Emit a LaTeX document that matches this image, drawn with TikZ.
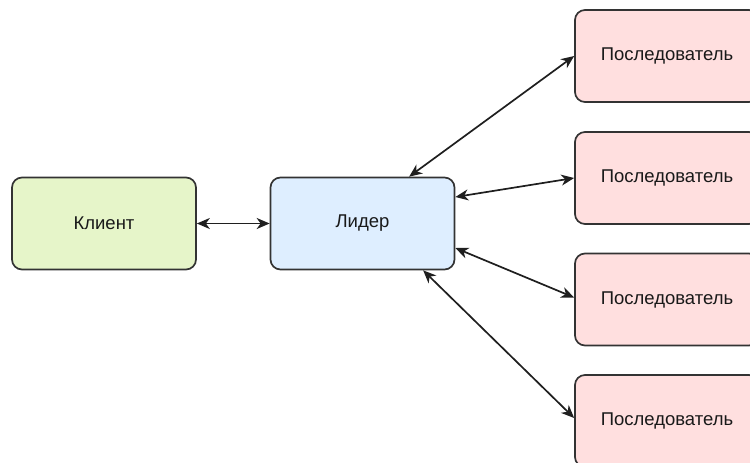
\documentclass[tikz,border=0pt]{standalone}
\usepackage{fontspec}
\setmainfont{Liberation Sans}
\usetikzlibrary{arrows.meta}
\definecolor{clientfill}{HTML}{E6F5C9}
\definecolor{leaderfill}{HTML}{DEEEFF}
\definecolor{followerfill}{HTML}{FFDFDF}
\definecolor{edgegray}{HTML}{333333}
\tikzset{
  box/.style={draw=edgegray, line width=1.7pt, rounded corners=10pt,
    minimum width=184pt, minimum height=92pt, inner sep=0pt,
    font=\fontsize{18.5}{22}\selectfont, text=black!90},
  tip/.style={Stealth[length=13pt,width=11pt,inset=4pt]},
  link/.style={line width=1.7pt, draw=black!88, {Stealth[length=13pt,width=11pt,inset=4pt]}-{Stealth[length=13pt,width=11pt,inset=4pt]}},
}
\begin{document}
\begin{tikzpicture}[x=1pt, y=-1pt]
  \useasboundingbox (0,0) rectangle (750,463);
  % client and leader
  \node[box, fill=clientfill] (C) at (104,223.5) {Клиент};
  \node[box, fill=leaderfill] (L) at (362.5,223.5) {Лидер};
  % followers
  \node[box, fill=followerfill] (F1) at (667,56) {Последователь};
  \node[box, fill=followerfill] (F2) at (667,178) {Последователь};
  \node[box, fill=followerfill] (F3) at (667,299.5) {Последователь};
  \node[box, fill=followerfill] (F4) at (667,421) {Последователь};
  % connections
  \draw[link] (C.east) -- (L.west);
  \draw[link] ([xshift=139.5pt]L.north west) -- (F1.west);
  \draw[link] ([yshift=26.5pt]L.east) -- (F2.west);
  \draw[link] ([yshift=-24.5pt]L.east) -- ([yshift=2pt]F3.west);
  \draw[link] ([xshift=153.5pt]L.south west) -- ([yshift=3pt]F4.west);
\end{tikzpicture}
\end{document}
